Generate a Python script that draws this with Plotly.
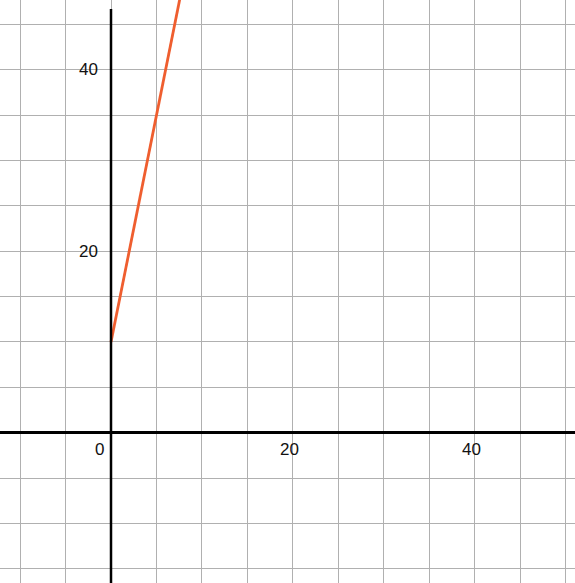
import plotly.graph_objects as go

# line y = 5x + 10, starting at the y-axis
line_x = [0, 8]
line_y = [10, 50]

x_tick_vals = [20, 40]
x_tick_text = ["20", "40"]
y_tick_vals = [20, 40]
y_tick_text = ["20", "40"]

X_RANGE = [-12.2, 51.0]
Y_RANGE = [-16.57, 47.7]

GRID = '#b0b0b0'
LINE = '#ef5e2f'
FONT = dict(family='Liberation Sans, Arial, sans-serif', size=17, color='#111111')

fig = go.Figure()
fig.add_trace(go.Scatter(x=line_x, y=line_y, mode='lines',
                         line=dict(color=LINE, width=2.8), showlegend=False, hoverinfo='skip'))

fig.update_xaxes(range=X_RANGE, tick0=0, dtick=5, showgrid=True, gridcolor=GRID, gridwidth=1,
                 zeroline=False, showticklabels=False, ticks='', fixedrange=True)
# horizontal axis line comes from the y-axis zeroline
fig.update_yaxes(range=Y_RANGE, tick0=0, dtick=5, showgrid=True, gridcolor=GRID, gridwidth=1,
                 zeroline=True, zerolinecolor='black', zerolinewidth=2.5,
                 showticklabels=False, ticks='', fixedrange=True)

# vertical axis line, stops a little short of the top edge
fig.add_shape(type='line', x0=0, x1=0, y0=Y_RANGE[0], y1=Y_RANGE[1] - 1,
              line=dict(color='black', width=2.5), layer='above')

# tick labels sit next to the axes
annotations = [dict(x=v, y=0, text=t, showarrow=False, xanchor='center', yanchor='middle',
                    yshift=-17, xshift=-3, font=FONT)
               for v, t in zip(x_tick_vals, x_tick_text)]
annotations += [dict(x=0, y=v, text=t, showarrow=False, xanchor='right', yanchor='middle',
                     xshift=-11, font=FONT)
                for v, t in zip(y_tick_vals, y_tick_text)]
annotations.append(dict(x=0, y=0, text="0", showarrow=False, xanchor='right', yanchor='middle',
                        xshift=-5, yshift=-17, font=FONT))

fig.update_layout(width=575, height=583, margin=dict(l=0, r=0, t=0, b=0),
                  plot_bgcolor='white', paper_bgcolor='white',
                  annotations=annotations)

fig.write_html("out.html", config=dict(displayModeBar=False),
               post_script="document.body.style.margin='0';")
